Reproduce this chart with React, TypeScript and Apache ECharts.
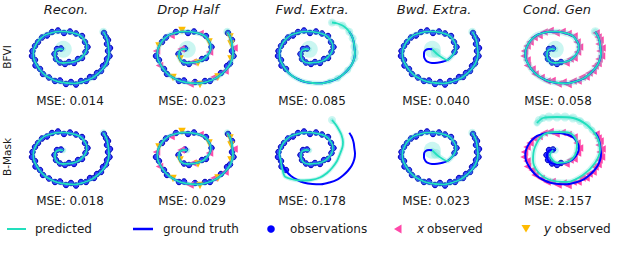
import React, { useEffect, useRef } from 'react';
import * as echarts from 'echarts';

// Ground-truth spiral, offsets (px-like units) from spiral centre, y up
const GT: number[][] = [
  [0.3, 0.7], [-3, 1], [-6.3, 0], [-8, -3], [-8, -6.7], [-6.5, -10], [-4.7, -11.7], [0, -13],
  [5.3, -12.7], [10.5, -11.8], [15.3, -10], [19, -7], [22, -3.3], [23.7, 1], [23.7, 5], [21.5, 9.5],
  [18.7, 13.3], [14, 15.8], [8.7, 17.3], [2, 18.3], [-4.7, 18.3], [-11.5, 17.2], [-18, 15], [-23, 11],
  [-26.3, 6.7], [-28.8, 1.5], [-29.7, -3.3], [-29, -9.5], [-26.3, -15], [-22.5, -20.5], [-18, -25],
  [-11.5, -29], [-4.7, -31.7], [3.5, -33], [12, -33.3], [20.5, -31.5], [28.7, -28.3], [34, -24.5],
  [38.7, -20], [42.8, -14.5], [45.3, -8.3], [46, -2.5], [45.3, 3.3], [44.8, 7.5], [43.7, 11.7],
  [42.2, 15.2], [40.3, 18.3],
];

// Observations along the spiral
const OBS: number[][] = [
  [-2, 1.5], [-6, 1], [-8.5, -4], [-7, -9], [-3, -12.5], [2, -14], [6, -12], [11, -13], [15, -9],
  [19, -8], [22.5, -2], [24.5, 3], [22, 8], [19, 14], [13, 16.5], [7, 18.5], [1, 17], [-5, 19.5],
  [-11, 18], [-16, 14.5], [-21, 12.5], [-25, 8], [-28, 4], [-30.5, -1], [-31, -6], [-28, -10],
  [-27.5, -15.5], [-23, -19], [-20, -24], [-14, -27.5], [-8, -31], [-3, -30.5], [3, -34], [8, -32],
  [13, -34.5], [18, -31], [23, -31], [27, -27], [31, -27], [34, -23], [38, -21], [40, -16],
  [43, -13.5], [44, -9], [46.5, -6], [45, -1], [47, 2], [44, 6], [45, 10], [43, 13], [41, 17],
];

// Drop Half: which coordinates were observed (b = both, x = x only, y = y only)
const DROP_TYPES = 'bxbybbxybbxbybxbbybxbbyxbbxbbybbxbybbxybxbbybbxybyb';

// Predictions that differ from the ground truth
const PRED_FWD_R1_EXT: number[][] = [[37.5, 21.5], [33.5, 24.5], [28.5, 26.5], [23, 27.5]];
const PRED_FWD_R2_TAIL: number[][] = [
  [-28.5, -9], [-27, -16], [-24.5, -25], [-18, -28], [-8, -29.5], [2, -29], [11, -26.5], [18, -22],
  [23, -17], [28, -10], [31, -3], [33.5, 4], [34, 9], [32.5, 16], [30, 21], [27, 26], [23, 31],
];
const PRED_BWD_HEAD: number[][] = [[0.3, 0.7], [7, -5.5]];
const PRED_COND_R2: number[][] = [
  [-2, 1], [-5, -4], [2, -12], [12, -11], [20, -4], [22, 8], [15, 18], [2, 19], [-12, 16], [-20, 4],
  [-22, -9], [-17, -21], [-5, -29], [12, -31], [28, -24], [40, -12], [45, 1], [42, 14], [32, 26],
  [18, 33], [2, 34], [-12, 33], [-18, 28],
];

// Uncertainty blobs [x, y, size]
const BLOBS_R1_STD: number[][] = [[0.3, 0.7, 17], [40.3, 18.3, 8]];
const BLOBS_FWD_R1: number[][] = [
  [0.3, 0.7, 17], [20.5, -31.5, 6], [28.7, -28.3, 7], [38.7, -20, 7], [45.3, -8.3, 8],
  [46, -2.5, 8], [45.3, 3.3, 8], [43.7, 11.7, 8], [40.3, 18.3, 8], [33.5, 24.5, 8], [23, 27.5, 8],
];
const BLOBS_BWD: number[][] = [[0.3, 0.7, 17], [4, -3, 10], [40.3, 18.3, 8]];
const BLOBS_COND_R1: number[][] = [[0.3, 0.7, 17], [40.3, 18.3, 9]];
const BLOBS_R2_STD: number[][] = [[0.3, 0.7, 6], [40.3, 18.3, 7]];
const BLOBS_FWD_R2: number[][] = [[0.3, 0.7, 6], [23, 31, 8]];
const BLOBS_COND_R2: number[][] = [
  [0.3, 0.7, 7], [37, 21, 7], [32, 26, 8], [25, 30, 8], [18, 33, 9], [10, 34, 9],
  [2, 34, 9], [-6, 34, 9], [-12, 33, 8], [-16, 31, 8], [-18, 28, 7],
];

const TITLES = ['Recon.', 'Drop Half', 'Fwd. Extra.', 'Bwd. Extra.', 'Cond. Gen'];
const MSE_ROW1 = ['0.014', '0.023', '0.085', '0.040', '0.058'];
const MSE_ROW2 = ['0.018', '0.029', '0.178', '0.023', '2.157'];
const ROW_LABELS = ['BFVI', 'B-Mask'];
const LEGEND = ['predicted', 'ground truth', 'observations', 'observed', 'observed'];

const PRED_COLOR = '#22dfbd';
const BAND_COLOR = 'rgba(80,225,210,0.3)';
const GT_COLOR = '#0000ff';
const X_COLOR = '#ff48a8';
const Y_COLOR = '#ffbb00';
const FONT = '"DejaVu Sans", sans-serif';
const TXT = '#1a1a1a';

interface Panel {
  pred: number[][];
  obsB: number[][];
  obsX: number[][];
  obsY: number[][];
  bw: number;
  blobs: number[][];
}

function dropSplit() {
  const b: number[][] = [], x: number[][] = [], y: number[][] = [];
  OBS.forEach((p, i) => {
    const t = DROP_TYPES[i] || 'b';
    if (t === 'x') x.push(p); else if (t === 'y') y.push(p); else b.push(p);
  });
  return { b, x, y };
}

function buildPanels(): Panel[][] {
  const d = dropSplit();
  const fwd1 = GT.concat(PRED_FWD_R1_EXT);
  const fwd2 = GT.slice(0, 27).concat(PRED_FWD_R2_TAIL);
  const bwd = PRED_BWD_HEAD.concat(GT.slice(10));
  const row1: Panel[] = [
    { pred: GT, obsB: OBS, obsX: [], obsY: [], bw: 5, blobs: BLOBS_R1_STD },
    { pred: GT, obsB: d.b, obsX: d.x, obsY: d.y, bw: 5, blobs: BLOBS_R1_STD },
    { pred: fwd1, obsB: OBS.slice(0, 28), obsX: [], obsY: [], bw: 5, blobs: BLOBS_FWD_R1 },
    { pred: bwd, obsB: OBS.slice(10), obsX: [], obsY: [], bw: 5, blobs: BLOBS_BWD },
    { pred: GT, obsB: OBS.slice(0, 7), obsX: OBS.slice(7), obsY: [], bw: 6, blobs: BLOBS_COND_R1 },
  ];
  const row2: Panel[] = [
    { pred: GT, obsB: OBS, obsX: [], obsY: [], bw: 4, blobs: BLOBS_R2_STD },
    { pred: GT, obsB: d.b, obsX: d.x, obsY: d.y, bw: 4, blobs: BLOBS_R2_STD },
    { pred: fwd2, obsB: OBS.slice(0, 28), obsX: [], obsY: [], bw: 4, blobs: BLOBS_FWD_R2 },
    { pred: bwd, obsB: OBS.slice(10), obsX: [], obsY: [], bw: 5, blobs: BLOBS_BWD },
    { pred: PRED_COND_R2, obsB: OBS.slice(0, 7), obsX: OBS.slice(7), obsY: [], bw: 5, blobs: BLOBS_COND_R2 },
  ];
  return [row1, row2];
}

const CX = [63, 187, 309, 432, 555];
const CY = [50, 151];
const TITLE_X = [66, 188, 312, 434, 557];
const MSE_X = [70, 192, 312, 436, 558];

function buildOption() {
  const panels = buildPanels();
  const grid: any[] = [], xAxis: any[] = [], yAxis: any[] = [], series: any[] = [];
  let k = 0;
  panels.forEach((row, r) => {
    row.forEach((p, c) => {
      grid.push({ left: CX[c] - 50, top: CY[r] - 40, width: 110, height: 80, show: false });
      xAxis.push({ gridIndex: k, type: 'value', min: -50, max: 60, show: false });
      yAxis.push({ gridIndex: k, type: 'value', min: -40, max: 40, show: false });
      const ax = { xAxisIndex: k, yAxisIndex: k, silent: true, clip: false };
      series.push({
        type: 'line', ...ax, data: p.pred, smooth: 0.3, symbol: 'none',
        lineStyle: { color: BAND_COLOR, width: p.bw, cap: 'round', join: 'round' },
      });
      series.push({
        type: 'scatter', ...ax, data: p.blobs, symbolSize: (v: number[]) => v[2],
        itemStyle: { color: BAND_COLOR, opacity: 1 },
      });
      series.push({
        type: 'line', ...ax, data: GT, smooth: 0.3, symbol: 'none',
        lineStyle: { color: GT_COLOR, width: 2 },
      });
      series.push({
        type: 'scatter', ...ax, data: p.obsB, symbolSize: 5.5,
        itemStyle: { color: '#3030ff', borderColor: '#0000b4', borderWidth: 1, opacity: 1 },
      });
      series.push({
        type: 'line', ...ax, data: p.pred, smooth: 0.3, symbol: 'none',
        lineStyle: { color: PRED_COLOR, width: 1.8 },
      });
      if (p.obsX.length) series.push({
        type: 'scatter', ...ax, data: p.obsX, symbol: 'triangle', symbolRotate: 90, symbolSize: 7.5,
        itemStyle: { color: X_COLOR, opacity: 1 },
      });
      if (p.obsY.length) series.push({
        type: 'scatter', ...ax, data: p.obsY, symbol: 'triangle', symbolRotate: 180, symbolSize: 7.5,
        itemStyle: { color: Y_COLOR, opacity: 1 },
      });
      k++;
    });
  });

  const graphic: any[] = [];
  TITLES.forEach((t, i) => graphic.push({
    type: 'text', x: TITLE_X[i], y: 9,
    style: { text: t, font: `italic 13px ${FONT}`, fill: TXT, textAlign: 'center', textVerticalAlign: 'middle' },
  }));
  MSE_ROW1.forEach((m, i) => graphic.push({
    type: 'text', x: MSE_X[i], y: 101,
    style: { text: 'MSE: ' + m, font: `12px ${FONT}`, fill: TXT, textAlign: 'center', textVerticalAlign: 'middle' },
  }));
  MSE_ROW2.forEach((m, i) => graphic.push({
    type: 'text', x: MSE_X[i], y: 201,
    style: { text: 'MSE: ' + m, font: `12px ${FONT}`, fill: TXT, textAlign: 'center', textVerticalAlign: 'middle' },
  }));
  [57, 157].forEach((y, i) => graphic.push({
    type: 'text', x: 7, y, rotation: Math.PI / 2,
    style: { text: ROW_LABELS[i], font: `10.5px ${FONT}`, fill: TXT, textAlign: 'center', textVerticalAlign: 'middle' },
  }));

  const LY = 229;
  const lt = (text: string, x: number, italic = false) => ({
    type: 'text', x, y: LY,
    style: { text, font: `${italic ? 'italic ' : ''}12px ${FONT}`, fill: TXT, textAlign: 'left', textVerticalAlign: 'middle' },
  });
  graphic.push({ type: 'line', shape: { x1: 7, y1: LY, x2: 26, y2: LY }, style: { stroke: PRED_COLOR, lineWidth: 2 } });
  graphic.push(lt(LEGEND[0], 35));
  graphic.push({ type: 'line', shape: { x1: 133, y1: LY, x2: 153, y2: LY }, style: { stroke: GT_COLOR, lineWidth: 2.5 } });
  graphic.push(lt(LEGEND[1], 163));
  graphic.push({ type: 'circle', shape: { cx: 271, cy: LY, r: 3.8 }, style: { fill: GT_COLOR } });
  graphic.push(lt(LEGEND[2], 290));
  graphic.push({ type: 'polygon', shape: { points: [[394, LY], [401.5, LY - 4.5], [401.5, LY + 4.5]] }, style: { fill: X_COLOR } });
  graphic.push(lt('x', 417, true));
  graphic.push(lt(LEGEND[3], 427));
  graphic.push({ type: 'polygon', shape: { points: [[521.5, LY - 4], [530.5, LY - 4], [526, LY + 3.5]] }, style: { fill: Y_COLOR } });
  graphic.push(lt('y', 544, true));
  graphic.push(lt(LEGEND[4], 555));

  return { animation: false, backgroundColor: '#ffffff', grid, xAxis, yAxis, series, graphic };
}

export default function App() {
  const ref = useRef<HTMLDivElement>(null);
  useEffect(() => {
    document.body.style.margin = '0';
    const chart = echarts.init(ref.current as HTMLDivElement, null, { renderer: 'svg' });
    chart.setOption(buildOption() as any);
    return () => chart.dispose();
  }, []);
  return <div ref={ref} style={{ width: 640, height: 263, position: 'absolute', left: 0, top: 0 }} />;
}
